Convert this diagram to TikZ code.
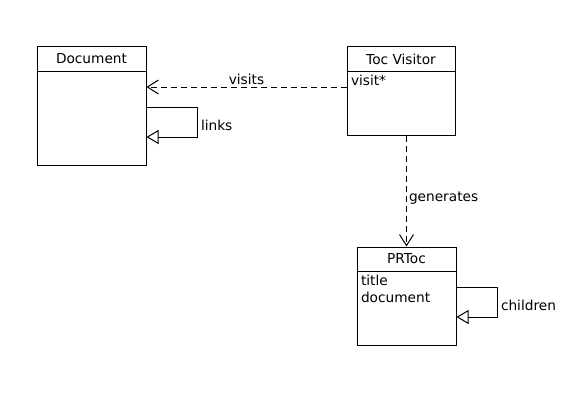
\documentclass[tikz,border=0pt]{standalone}
\usepackage{fontspec}
\setmainfont{DejaVu Sans}
\usepackage{tikz}
\usetikzlibrary{arrows.meta}

\begin{document}
\begin{tikzpicture}[x=1pt,y=-1pt,line width=1pt,
		every node/.style={font=\fontsize{13.7}{17}\selectfont},
		klasse/.style={draw,rectangle,inner sep=0pt},
		titel/.style={inner sep=0pt},
		attr/.style={anchor=north west,align=left,inner xsep=4pt,inner ysep=3.5pt},
		abh/.style={dashed,dash pattern=on 6pt off 4pt,-{Straight Barb[length=11pt,width=14pt,line width=1pt]}},
		erb/.style={-{Triangle[open,length=12pt,width=14pt,line width=1pt,fill=white]}}]

		\useasboundingbox (0,0) rectangle (586,412);

		% Klassen
		\node[klasse, minimum width=109pt, minimum height=118pt] (doc) at (91.5,106) {};
		\node[klasse, minimum width=108pt, minimum height=88pt] (tv) at (401,91) {};
		\node[klasse, minimum width=99pt, minimum height=98pt] (prtoc) at (406.5,296) {};

		% Trennlinien
		\foreach \k in {doc,tv,prtoc} \draw ([yshift=-25pt]\k.north west) -- ([yshift=-25pt]\k.north east);

		% Namen
		\node[titel] (doct) at ([yshift=-12.5pt]doc.north) {Document};
		\node[titel] (tvt) at ([yshift=-12.5pt]tv.north) {Toc Visitor};
		\node[titel] (prtoct) at ([yshift=-12.5pt]prtoc.north) {PRToc};

		% Attribute
		\node[attr] (tva) at ([yshift=-25pt]tv.north west) {visit*};
		\node[attr] (prtoca) at ([yshift=-25pt]prtoc.north west) {title\\document};

		% Beziehungen
		\coordinate (va) at ([yshift=4pt]tv.west);
		\draw[abh] (va) -- (va -| doc.east) node[midway,above,inner sep=2pt] (visits) {visits};
		\draw[abh] (tv.south -| prtoc.north) -- (prtoc.north) node[midway,right,inner sep=2pt,yshift=-7pt] (gen) {generates};
		\draw[erb] ([yshift=-1pt]doc.east) -- ++(51,0) -- ++(0,30) node[midway,right,inner sep=3pt,yshift=-3.5pt] (links) {links} -- ([yshift=-31pt]doc.east);
		\draw[erb] ([yshift=9pt]prtoc.east) -- ++(41,0) -- ++(0,30) node[midway,right,inner sep=3pt,yshift=-3.5pt] (kinder) {children} -- ([yshift=-21pt]prtoc.east);

	\end{tikzpicture}
\end{document}
